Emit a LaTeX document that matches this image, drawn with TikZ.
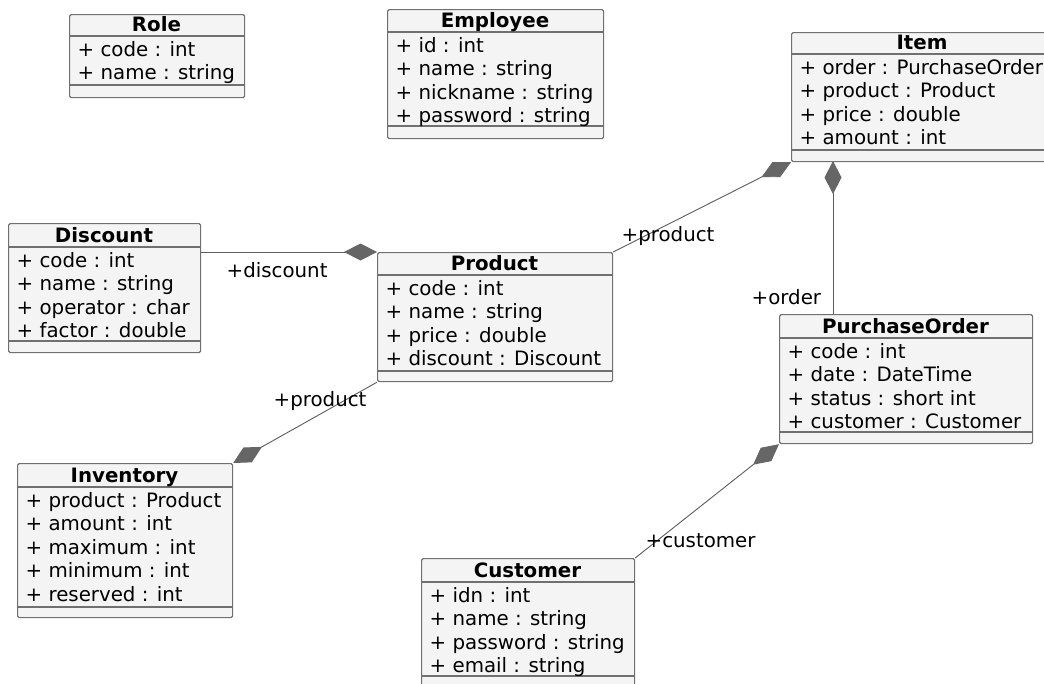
\documentclass[tikz,border=0pt]{standalone}
\usepackage{fontspec}
\setmainfont{DejaVu Sans}
\usetikzlibrary{arrows.meta}
\definecolor{boxfill}{HTML}{F4F4F4}
\definecolor{boxline}{HTML}{707070}
\definecolor{connline}{HTML}{5C5C5C}
\definecolor{diafill}{HTML}{666666}
\tikzset{
  txtfont/.style={font=\fontsize{19.8}{23.5}\selectfont},
  clsbox/.style={anchor=north west, draw=boxline, fill=boxfill, line width=1.2pt, rounded corners=1.5pt, inner sep=0pt},
  sepline/.style={draw=boxline, line width=1.2pt},
  ttl/.style={anchor=base, inner sep=0pt, font=\fontsize{19.8}{23.5}\selectfont\bfseries},
  attr/.style={anchor=base west, inner sep=0pt, txtfont},
  lbl/.style={anchor=base west, inner sep=0pt, txtfont},
  comp/.style={draw=connline, line width=0.9pt, -{Diamond[length=33pt,width=17pt,fill=diafill,color=diafill]}}
}
% name, left, top, right, bottom, title sep, attr sep
\newcommand{\umlclass}[7]{%
  \node[clsbox, minimum width={(#4-#2)*1pt}, minimum height={(#5-#3)*1pt}] (#1) at (#2,#3) {};
  \draw[sepline] (#2,#6) -- (#4,#6);
  \draw[sepline] (#2,#7) -- (#4,#7);
}
% name, center x, title sep, text
\newcommand{\umltitle}[4]{%
  \node[ttl] (#1-title) at (#2,#3-4.2) {#4};
}
% name, left, title sep, list
\newcommand{\umlattrs}[4]{%
  \foreach \txt [count=\k from 0] in {#4} {
    \node[attr] (#1-a\k) at (#2+8.5,#3+20+23.5*\k) {\txt};
  }
}
\begin{document}
\begin{tikzpicture}[x=1pt,y=-1pt]
\useasboundingbox (0,0) rectangle (1044,683);

% Role
\umlclass{role}{69}{14}{244}{97}{36}{85}
\umltitle{role}{156.5}{36}{Role}
\umlattrs{role}{69}{36}{+ code : int, + name : string}

% Employee
\umlclass{employee}{387}{9}{603}{138}{32}{126}
\umltitle{employee}{495}{32}{Employee}
\umlattrs{employee}{387}{32}{+ id : int, + name : string, + nickname : string, + password : string}

% Item
\umlclass{item}{791}{32}{1070}{161}{54}{150}
\umltitle{item}{922}{54}{Item}
\umlattrs{item}{791}{54}{+ order : PurchaseOrder, + product : Product, + price : double, + amount : int}

% Discount
\umlclass{discount}{8}{223}{200}{352}{247}{341}
\umltitle{discount}{104}{247}{Discount}
\umlattrs{discount}{8}{247}{+ code : int, + name : string, + operator : char, + factor : double}

% Product
\umlclass{product}{377}{252}{612}{381}{275}{371}
\umltitle{product}{494.5}{275}{Product}
\umlattrs{product}{377}{275}{+ code : int, + name : string, + price : double, + discount : Discount}

% PurchaseOrder
\umlclass{po}{779}{314}{1032}{443}{338}{432}
\umltitle{po}{905.5}{338}{PurchaseOrder}
\umlattrs{po}{779}{338}{+ code : int, + date : DateTime, + status : short int, + customer : Customer}

% Inventory
\umlclass{inventory}{17}{463}{232}{617}{487}{607}
\umltitle{inventory}{124.5}{487}{Inventory}
\umlattrs{inventory}{17}{487}{+ product : Product, + amount : int, + maximum : int, + minimum : int, + reserved : int}

% Customer
\umlclass{customer}{421}{558}{634}{690}{582}{676}
\umltitle{customer}{527.5}{582}{Customer}
\umlattrs{customer}{421}{582}{+ idn : int, + name : string, + password : string, + email : string}

% connectors
\coordinate (itemord) at (833,161);
\draw[comp] (discount.east |- product.north west) -- (product.north west);
\draw[comp] (product.north east) -- (item.south west);
\draw[comp] (po.north -| itemord) -- (itemord);
\draw[comp] (customer.north east) -- (po.south west);
\draw[comp] (product.south west) -- (inventory.north east);

% labels
\node[lbl] (l-disc) at (226.5,277) {+discount};
\node[lbl] (l-prod1) at (621.5,241) {+product};
\node[lbl] (l-order) at (751.5,304) {+order};
\node[lbl] (l-prod2) at (273.5,406) {+product};
\node[lbl] (l-cust) at (645.5,547) {+customer};
\end{tikzpicture}
\end{document}
